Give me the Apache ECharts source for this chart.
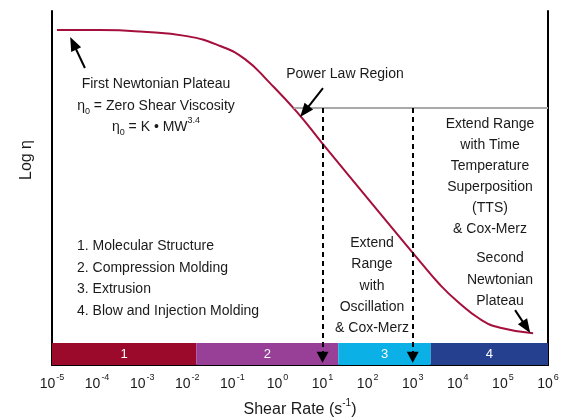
<!DOCTYPE html>
<html>
<head>
<meta charset="utf-8">
<script src="https://cdn.jsdelivr.net/npm/echarts@6/dist/echarts.min.js"></script>
<style>
html,body{margin:0;padding:0;background:#fff;}
#chart{width:565px;height:420px;}
</style>
</head>
<body>
<div id="chart"></div>
<script>
// ---- data (x = log10 shear rate, y = relative log viscosity) ----
const shearExp = [-4.89, -3.94, -3.05, -2.01, -1.27, -0.72, -0.17, 0.43, 0.99, 2.27, 3.21, 3.61, 3.98, 4.49, 4.94, 5.67];
const logEta   = [94.6, 94.6, 94.2, 92.9, 90.1, 86.4, 79.7, 71.5, 62.7, 42.9, 28.5, 22.6, 18.1, 13.0, 10.5, 9.0];
const tickExps = [-5, -4, -3, -2, -1, 0, 1, 2, 3, 4, 5, 6];
const bandNames = ['1', '2', '3', '4'];
const bandStart = [-5, -1.8, 1.35, 3.4];
const bandEnd   = [-1.8, 1.35, 3.4, 6];
const bandTop = 6.2;
const methodLimits = [1, 3];          // dashed lines at 10^1 and 10^3
const plateauRef = 72.6;              // grey reference level
const plateauRefStart = 0.36;
const listItems = ['1. Molecular Structure', '2. Compression Molding', '3. Extrusion', '4. Blow and Injection Molding'];
// arrows: [tailX, tailY, headX, headY]
const arrowFirst  = [-4.27, 83.9, -4.53, 90.9];
const arrowPower  = [1.01, 78.2, 0.60, 71.6];
const arrowSecond = [5.27, 15.5, 5.52, 10.7];

const bandColors = ['#9c0a2b', '#983f97', '#0bb1e6', '#24408e'];
const FONT = '"Liberation Sans", Arial, Helvetica, sans-serif';
const TXT = '#1a1a1a';

const chart = echarts.init(document.getElementById('chart'), null, {renderer: 'canvas'});

const bandAreas = bandNames.map((n, i) => [
  {name: n, xAxis: bandStart[i], yAxis: 0, itemStyle: {color: bandColors[i]}},
  {xAxis: bandEnd[i], yAxis: bandTop}
]);

function arrowLine(a) {
  return [{coord: [a[0], a[1]]}, {coord: [a[2], a[3]]}];
}

const option = {
  animation: false,
  backgroundColor: '#fff',
  grid: {left: 52, right: 17, top: 11, bottom: 55, containLabel: false, outerBoundsMode: 'none'},
  xAxis: {
    type: 'value', min: -5, max: 6, interval: 1,
    axisLine: {show: true, onZero: false, lineStyle: {color: '#000', width: 2}},
    axisTick: {show: false},
    splitLine: {show: false},
    axisLabel: {
      margin: 8,
      formatter: v => tickExps.includes(v) ? '{b|10}{s|' + v + '}' : '',
      rich: {
        b: {fontFamily: FONT, fontSize: 14, color: TXT, lineHeight: 18, verticalAlign: 'bottom'},
        s: {fontFamily: FONT, fontSize: 9, color: TXT, lineHeight: 18, verticalAlign: 'top', padding: [0, 0, 0, 1]}
      }
    },
    name: '{t|Shear Rate (s}{s|-1}{t|)}',
    nameLocation: 'middle',
    nameGap: 33,
    nameTextStyle: {
      rich: {
        t: {fontFamily: FONT, fontSize: 16, color: TXT, lineHeight: 20, verticalAlign: 'bottom'},
        s: {fontFamily: FONT, fontSize: 10, color: TXT, lineHeight: 20, verticalAlign: 'top'}
      }
    }
  },
  yAxis: [
    {type: 'value', min: 0, max: 100, position: 'left',
     axisLine: {show: true, onZero: false, lineStyle: {color: '#000', width: 2}},
     axisTick: {show: false}, axisLabel: {show: false}, splitLine: {show: false}},
    {type: 'value', min: 0, max: 100, position: 'right',
     axisLine: {show: true, onZero: false, lineStyle: {color: '#000', width: 2}},
     axisTick: {show: false}, axisLabel: {show: false}, splitLine: {show: false}}
  ],
  series: [
    {
      type: 'line', name: 'bands', data: [], z: 1, silent: true,
      markArea: {
        silent: true,
        label: {show: true, position: 'inside', color: '#fff', fontFamily: FONT, fontSize: 13},
        data: bandAreas
      }
    },
    {
      type: 'line', name: 'refs', data: [], z: 3, silent: true,
      markLine: {
        silent: true, animation: false,
        label: {show: false},
        data: [
          [{coord: [plateauRefStart, plateauRef], symbol: 'none', lineStyle: {color: '#a9a9a9', width: 2, type: 'solid'}},
           {coord: [6, plateauRef], symbol: 'none'}]
        ].concat(methodLimits.map(x => [
          {coord: [x, plateauRef], symbol: 'none', lineStyle: {color: '#000', width: 2, type: [5, 4]}},
          {coord: [x, 2.2], symbol: 'triangle', symbolSize: [12, 11]}
        ]))
      }
    },
    {
      type: 'line', name: 'viscosity',
      data: shearExp.map((x, i) => [x, logEta[i]]),
      showSymbol: false, symbol: 'none',
      smooth: 0.5,
      lineStyle: {color: '#a50f3b', width: 2},
      z: 4, silent: true,
      markLine: {
        silent: true, animation: false, label: {show: false},
        symbol: ['none', 'triangle'], symbolSize: [11, 14],
        lineStyle: {color: '#000', width: 2, type: 'solid'},
        data: [arrowLine(arrowFirst), arrowLine(arrowPower), arrowLine(arrowSecond)]
      }
    }
  ],
  graphic: [
    {type: 'text', x: 27, y: 160, rotation: Math.PI / 2,
     style: {text: 'Log η', font: '16px ' + FONT, fill: TXT, align: 'center', verticalAlign: 'middle'}},
    {type: 'text', x: 156, y: 84,
     style: {text: 'First Newtonian Plateau', font: '14px ' + FONT, fill: TXT, align: 'center', verticalAlign: 'middle'}},
    {type: 'text', x: 156, y: 104,
     style: {text: '{t|η}{sub|0}{t| = Zero Shear Viscosity}', align: 'center', verticalAlign: 'middle',
       rich: {t: {font: '14px ' + FONT, fill: TXT, lineHeight: 18, verticalAlign: 'bottom'},
              sub: {font: '9px ' + FONT, fill: TXT, lineHeight: 18, verticalAlign: 'bottom', padding: [0, 0, -3, 0]}}}},
    {type: 'text', x: 156, y: 125,
     style: {text: '{t|η}{sub|0}{t| = K • MW}{sup|3.4}', align: 'center', verticalAlign: 'middle',
       rich: {t: {font: '14px ' + FONT, fill: TXT, lineHeight: 18, verticalAlign: 'bottom'},
              sub: {font: '9px ' + FONT, fill: TXT, lineHeight: 18, verticalAlign: 'bottom', padding: [0, 0, -3, 0]},
              sup: {font: '9px ' + FONT, fill: TXT, lineHeight: 18, verticalAlign: 'top'}}}},
    {type: 'text', x: 345, y: 74,
     style: {text: 'Power Law Region', font: '14px ' + FONT, fill: TXT, align: 'center', verticalAlign: 'middle'}},
    {type: 'text', x: 490, y: 113.5,
     style: {text: 'Extend Range\nwith Time\nTemperature\nSuperposition\n(TTS)\n& Cox-Merz', font: '14px ' + FONT,
       fill: TXT, align: 'center', verticalAlign: 'top', lineHeight: 21}},
    {type: 'text', x: 372, y: 232.5,
     style: {text: 'Extend\nRange\nwith\nOscillation\n& Cox-Merz', font: '14px ' + FONT,
       fill: TXT, align: 'center', verticalAlign: 'top', lineHeight: 21.3}},
    {type: 'text', x: 500, y: 247.5,
     style: {text: 'Second\nNewtonian\nPlateau', font: '14px ' + FONT,
       fill: TXT, align: 'center', verticalAlign: 'top', lineHeight: 21.5}},
    {type: 'text', x: 77, y: 235.5,
     style: {text: listItems.join('\n'), font: '14px ' + FONT,
       fill: TXT, align: 'left', verticalAlign: 'top', lineHeight: 21.5}}
  ]
};
chart.setOption(option);
</script>
</body>
</html>
